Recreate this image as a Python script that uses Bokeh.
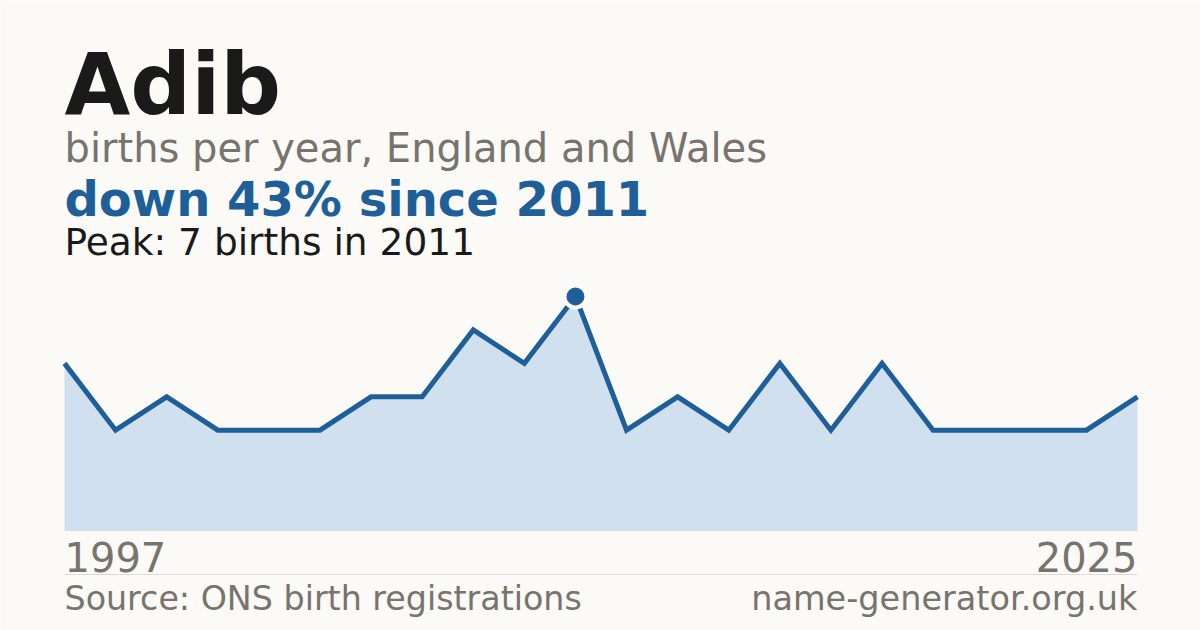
from bokeh.plotting import figure
from bokeh.models import Label, Range1d
from bokeh.embed import file_html
from bokeh.resources import INLINE

years = [1997, 1998, 2000, 2002, 2003, 2004, 2006, 2007, 2008, 2010, 2011,
         2012, 2013, 2015, 2016, 2017, 2019, 2020, 2021, 2022, 2024, 2025]
births = [5, 3, 4, 3, 3, 3, 4, 4, 6, 5, 7, 3, 4, 3, 5, 3, 5, 3, 3, 3, 3, 4]

name = "Adib"
subtitle = "births per year, England and Wales"
peak_val = max(births)
peak_idx = births.index(peak_val)
peak_year = years[peak_idx]
change = round((births[-1] - peak_val) / peak_val * 100)
headline = f"down {abs(change)}% since {peak_year}"
peak_text = f"Peak: {peak_val} births in {peak_year}"
source = "Source: ONS birth registrations"
site = "name-generator.org.uk"

W, H = 1200, 630
BG = "#fbfaf6"
BLUE = "#1f5f99"
FILL = "#d0e0ef"
GRAY = "#78736d"
DARK = "#1a1a1a"
RULE = "#dedbd4"
FONT = "DejaVu Sans"

# plot frame mapping (canvas pixels)
x0_px, x1_px = 64, 1137
y0_px, ytop_px = 530, 296  # value 0 and peak value
n = len(births)
xs = list(range(n))
ux = (n - 1) / (x1_px - x0_px)
uy = peak_val / (y0_px - ytop_px)
xr = Range1d(-x0_px * ux, (n - 1) + (W - x1_px) * ux)
yr = Range1d(-(H - y0_px) * uy, peak_val + ytop_px * uy)

p = figure(width=W, height=H, x_range=xr, y_range=yr, output_backend="svg",
           toolbar_location=None, min_border=0)
p.axis.visible = False
p.grid.visible = False
p.outline_line_color = None
p.background_fill_color = BG
p.border_fill_color = BG

p.varea(x=xs, y1=[0] * n, y2=births, fill_color=FILL)
p.line(x=[0, n - 1], y=[0, 0], line_color=RULE, line_width=1)
p.line(x=xs, y=births, line_color=BLUE, line_width=5, line_join="miter")
p.scatter(x=[peak_idx], y=[peak_val], size=22, fill_color=BLUE,
          line_color=BG, line_width=4)

# separator line
sep_y = -(574 - y0_px) * uy
p.line(x=[0, n - 1], y=[sep_y, sep_y], line_color=RULE, line_width=1)


def lab(txt, x, baseline, size, color, bold=False, align="left"):
    y = H - (baseline + 3 - 0.39 * size)
    p.add_layout(Label(x=x, y=y, x_units="screen", y_units="screen",
                       text=txt, text_font=FONT, text_font_size=f"{size}px",
                       text_color=color, text_align=align,
                       text_baseline="alphabetic",
                       text_font_style="bold" if bold else "normal"))


lab(name, 64, 114, 85, DARK, bold=True)
lab(subtitle, 64, 160, 40, GRAY)
lab(headline, 64, 214, 48, BLUE, bold=True)
lab(peak_text, 64, 253, 37.5, DARK)
lab(str(years[0]), 64, 569, 40, GRAY)
lab(str(years[-1]), 1137, 569, 40, GRAY, align="right")
lab(source, 64, 608, 33.3, GRAY)
lab(site, 1137, 608, 33.5, GRAY, align="right")

open("out.html", "w").write(file_html(p, INLINE))
